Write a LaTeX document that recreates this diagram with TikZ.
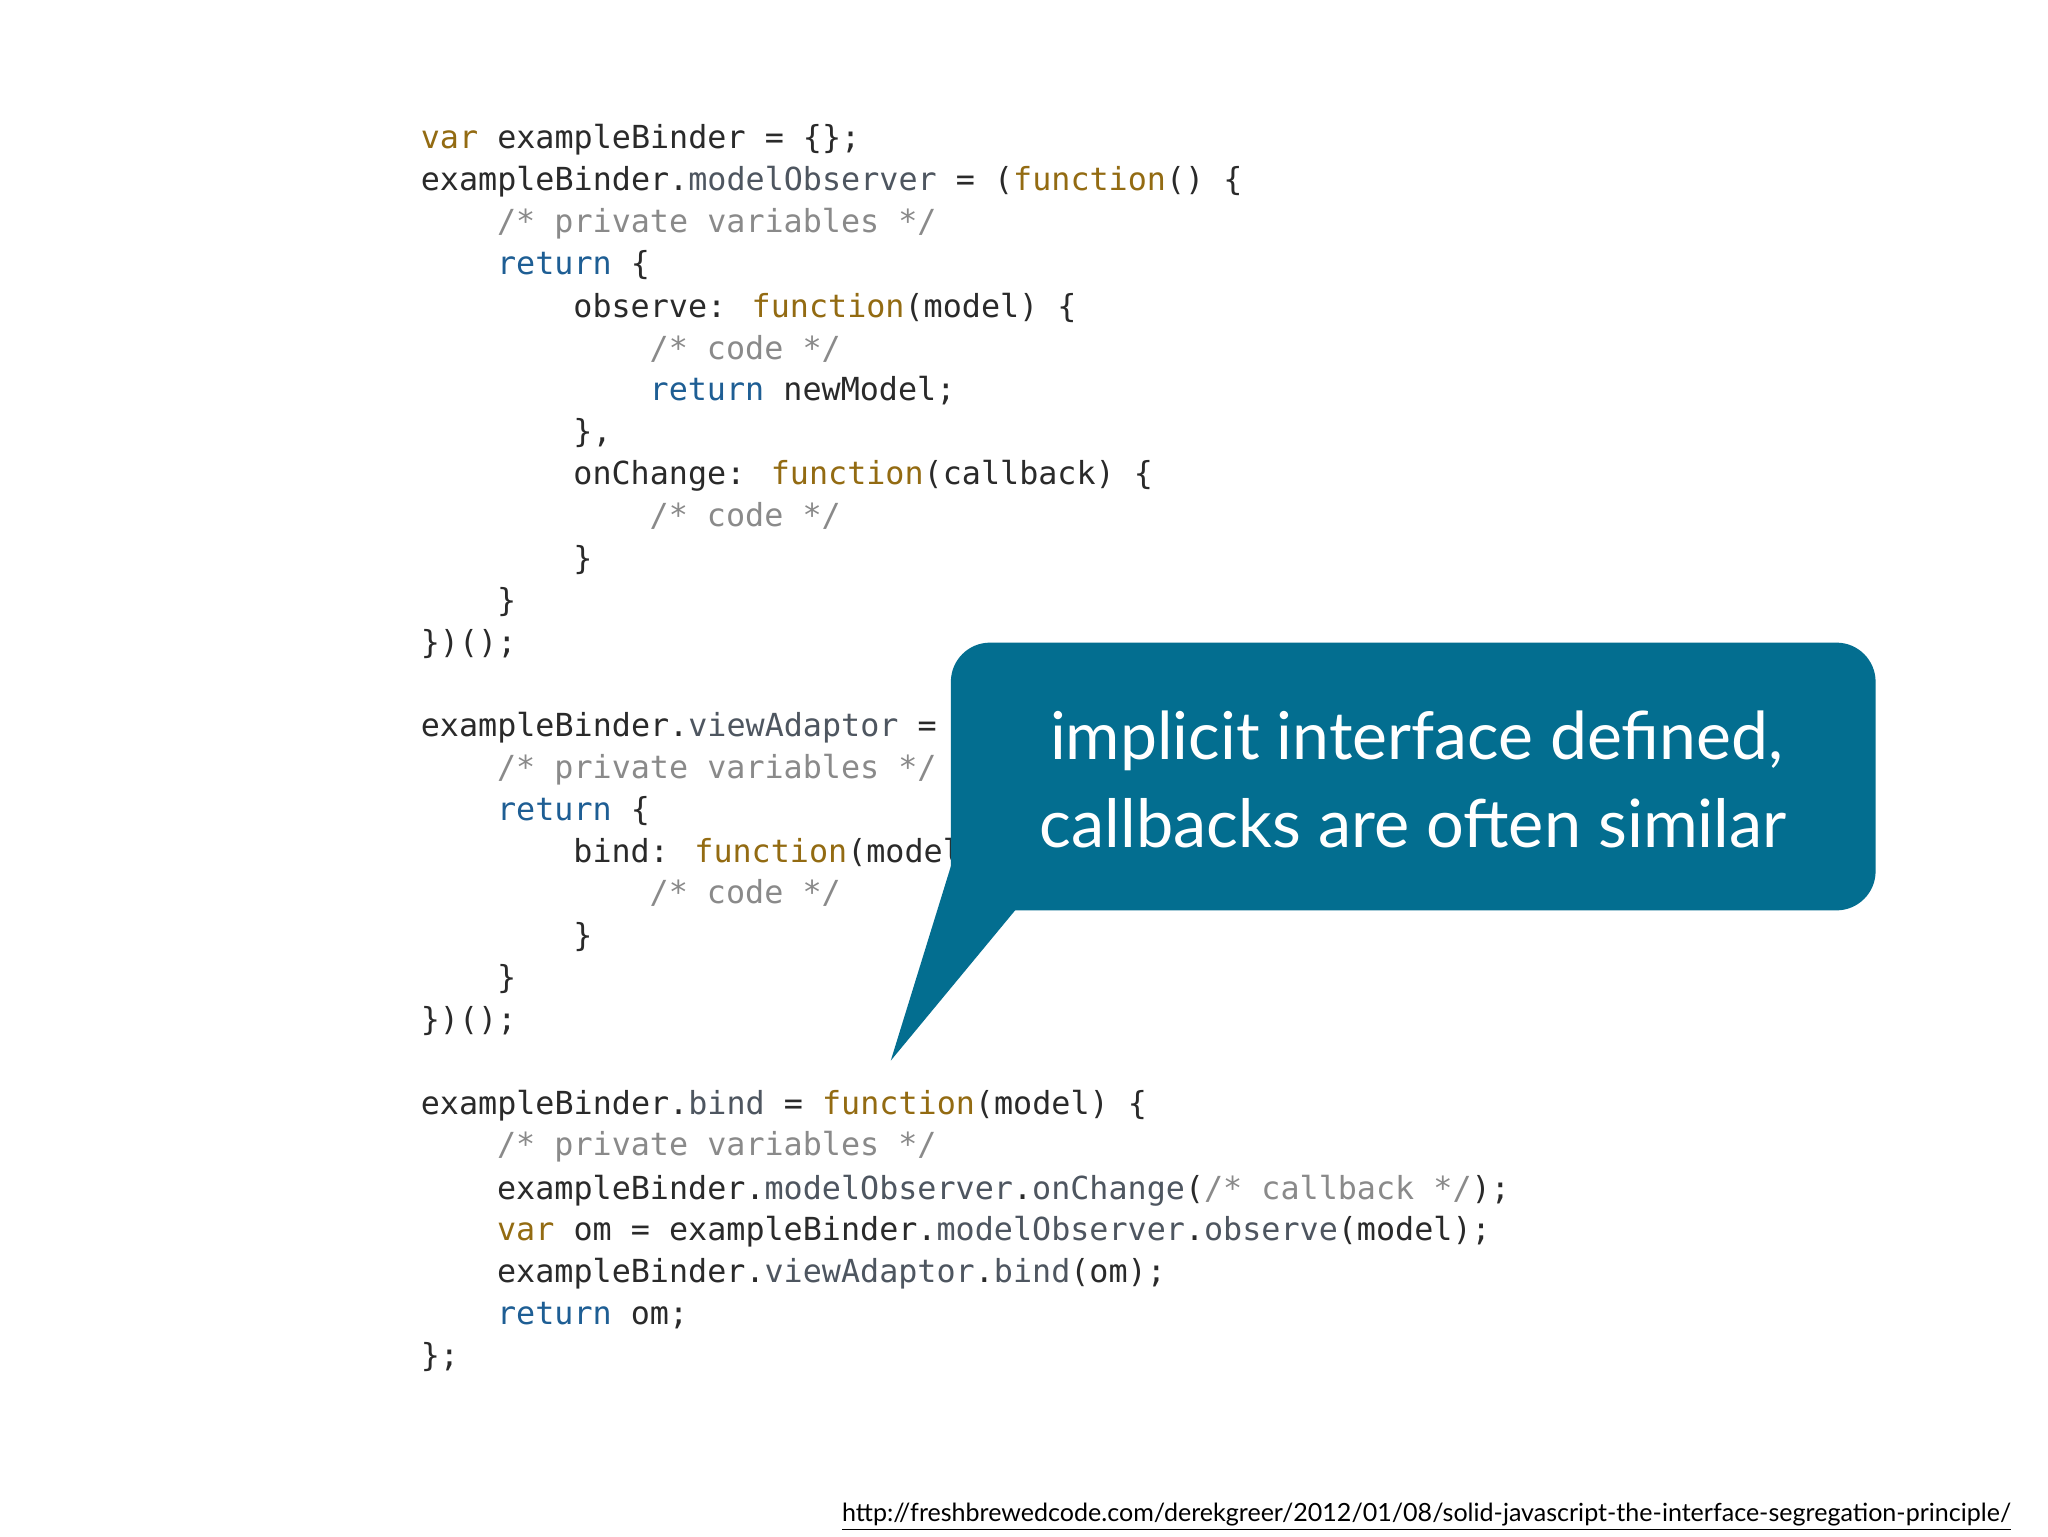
\documentclass[tikz,border=0pt]{standalone}
\usepackage{fontspec}
\setmainfont{Lato}
\newfontfamily\codefont{DejaVu Sans Mono}
\definecolor{kw}{HTML}{936B12}
\definecolor{rt}{HTML}{1E5E94}
\definecolor{cm}{HTML}{8A8A8A}
\definecolor{pr}{HTML}{4E5660}
\definecolor{tx}{HTML}{2A2A2A}
\definecolor{teal}{HTML}{036E90}
\newcommand\Kw[1]{\textcolor{kw}{#1}}
\newcommand\Rt[1]{\textcolor{rt}{#1}}
\newcommand\Cm[1]{\textcolor{cm}{#1}}
\newcommand\Pp[1]{\textcolor{pr}{#1}}
\begin{document}
\begin{tikzpicture}[x=1pt,y=-1pt,
  code/.style={anchor=base west,inner sep=0pt,text=tx,font=\codefont\fontsize{24.3}{28}\selectfont},
  callout/.style={text=white,inner sep=0pt,font=\fontsize{50}{60}\selectfont}]
\useasboundingbox[fill=white] (0,0) rectangle (1568,1176);
\def\a{322}\def\b{380.4}\def\c{438.8}\def\d{497.2}
\node[code] (l1) at (\a,114) {\Kw{var} exampleBinder = \{\};};
\node[code] (l2) at (\a,146) {exampleBinder.\Pp{modelObserver} = (\Kw{function}() \{};
\node[code] (l3) at (\b,178) {\Cm{/* private variables */}};
\node[code] (l4) at (\b,210) {\Rt{return} \{};
\node[code] (l5) at (\c,243) {observe: \Kw{function}(model) \{};
\node[code] (l6) at (\d,275) {\Cm{/* code */}};
\node[code] (l7) at (\d,307) {\Rt{return} newModel;};
\node[code] (l8) at (\c,339) {\},};
\node[code] (l9) at (\c,371) {onChange: \Kw{function}(callback) \{};
\node[code] (l10) at (\d,403) {\Cm{/* code */}};
\node[code] (l11) at (\c,436) {\}};
\node[code] (l12) at (\b,468) {\}};
\node[code] (l13) at (\a,500) {\})();};
\node[code] (l15) at (\a,564) {exampleBinder.\Pp{viewAdaptor} = };
\node[code] (l16) at (\b,596) {\Cm{/* private variables */}};
\node[code] (l17) at (\b,628) {\Rt{return} \{};
\node[code] (l18) at (\c,660) {bind: \Kw{function}(model};
\node[code] (l19) at (\d,692) {\Cm{/* code */}};
\node[code] (l20) at (\c,725) {\}};
\node[code] (l21) at (\b,757) {\}};
\node[code] (l22) at (\a,789) {\})();};
\node[code] (l24) at (\a,853) {exampleBinder.\Pp{bind} = \Kw{function}(model) \{};
\node[code] (l25) at (\b,885) {\Cm{/* private variables */}};
\node[code] (l26) at (\b,918) {exampleBinder.\Pp{modelObserver}.\Pp{onChange}(\Cm{/* callback */});};
\node[code] (l27) at (\b,950) {\Kw{var} om = exampleBinder.\Pp{modelObserver}.\Pp{observe}(model);};
\node[code] (l28) at (\b,982) {exampleBinder.\Pp{viewAdaptor}.\Pp{bind}(om);};
\node[code] (l29) at (\b,1014) {\Rt{return} om;};
\node[code] (l30) at (\a,1046) {\};};
% callout
\fill[teal,rounded corners=30pt] (728,492) rectangle (1436,697);
\fill[teal] (729,660) -- (778,696) -- (682,812) -- cycle;
\node[callout] (t1) at (1084.5,567) {\resizebox{561pt}{!}{implicit interface defined,}};
\node[callout] (t2) at (1082,630) {\resizebox{572pt}{!}{callbacks are often similar}};
\node[anchor=base east,inner sep=0pt,text=black] (url) at (1540,1165)
  {\resizebox{895pt}{!}{\underline{http://freshbrewedcode.com/derekgreer/2012/01/08/solid-javascript-the-interface-segregation-principle/}}};
\end{tikzpicture}
\end{document}
